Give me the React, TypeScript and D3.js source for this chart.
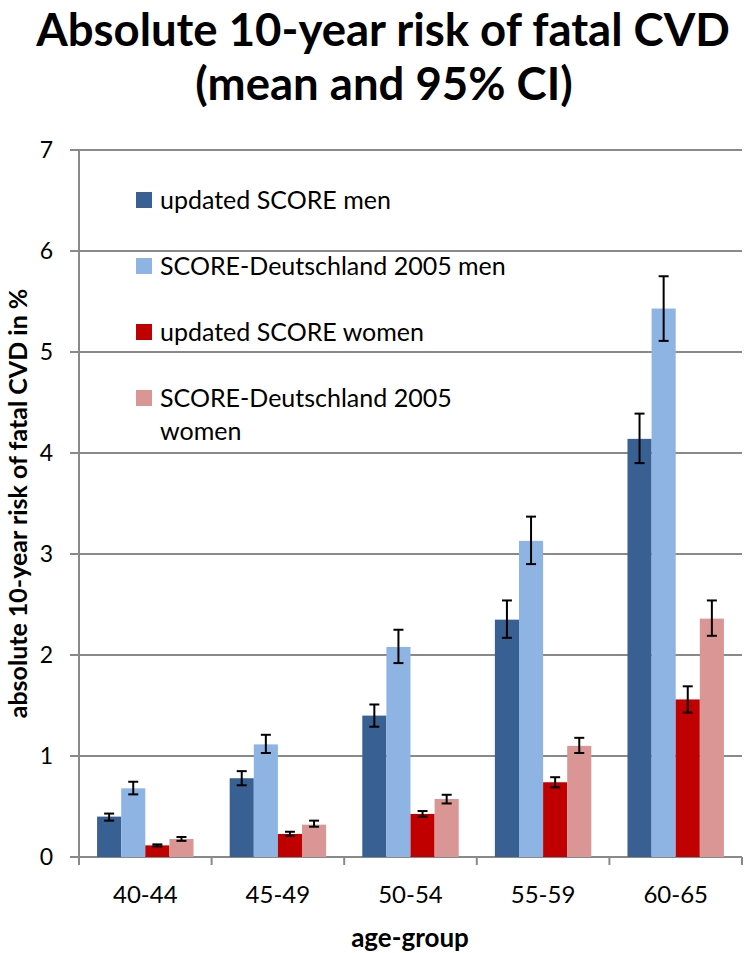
import React from "react";
import * as d3 from "d3";

const ageGroups = ["40-44", "45-49", "50-54", "55-59", "60-65"];
const seriesNames = [
  "updated SCORE men",
  "SCORE-Deutschland 2005 men",
  "updated SCORE women",
  "SCORE-Deutschland 2005 women",
];
const seriesColors = ["#386093", "#8EB4E3", "#C00000", "#D99694"];

const updatedMenMean = [0.4, 0.78, 1.4, 2.35, 4.14];
const updatedMenLow = [0.36, 0.71, 1.29, 2.17, 3.9];
const updatedMenHigh = [0.43, 0.85, 1.51, 2.54, 4.39];

const deMenMean = [0.68, 1.115, 2.08, 3.13, 5.43];
const deMenLow = [0.62, 1.03, 1.92, 2.9, 5.11];
const deMenHigh = [0.745, 1.21, 2.25, 3.37, 5.75];

const updatedWomenMean = [0.115, 0.228, 0.426, 0.74, 1.56];
const updatedWomenLow = [0.105, 0.21, 0.4, 0.69, 1.43];
const updatedWomenHigh = [0.125, 0.25, 0.455, 0.79, 1.69];

const deWomenMean = [0.178, 0.32, 0.574, 1.1, 2.36];
const deWomenLow = [0.16, 0.3, 0.53, 1.03, 2.19];
const deWomenHigh = [0.198, 0.36, 0.616, 1.18, 2.54];

const yTicks = [0, 1, 2, 3, 4, 5, 6, 7];

const means = [updatedMenMean, deMenMean, updatedWomenMean, deWomenMean];
const lows = [updatedMenLow, deMenLow, updatedWomenLow, deWomenLow];
const highs = [updatedMenHigh, deMenHigh, updatedWomenHigh, deWomenHigh];

export default function App() {
  const W = 750;
  const H = 953;
  const left = 79;
  const right = 742;
  const top = 150;
  const bottom = 857;
  const grid = "#898989";
  const font = "Lato, 'Open Sans', sans-serif";

  const y = d3.scaleLinear().domain([0, 7]).range([bottom, top]);
  const x0 = d3.scaleBand<string>().domain(ageGroups).range([left, right]).padding(0);
  const x1 = d3
    .scaleBand<number>()
    .domain(d3.range(seriesNames.length))
    .range([0, x0.bandwidth()])
    .paddingInner(0)
    .paddingOuter(0.75);

  const boundaries = [...ageGroups.map((g) => x0(g) as number), right];

  return (
    <svg width={W} height={H} style={{ position: "absolute", left: 0, top: 0, background: "#fff" }}>
      <rect width={W} height={H} fill="#fff" />
      {/* Title */}
      <text x={383} y={46} textAnchor="middle" fontFamily={font} fontWeight="bold" fontSize={45.5} fill="#000">
        Absolute 10-year risk of fatal CVD
      </text>
      <text x={384} y={100} textAnchor="middle" fontFamily={font} fontWeight="bold" fontSize={45.5} fill="#000">
        (mean and 95% CI)
      </text>

      {/* gridlines */}
      {yTicks.map((t) => (
        <g key={t}>
          <line x1={70} x2={right} y1={y(t)} y2={y(t)} stroke={grid} strokeWidth={2} />
          <text x={53} y={y(t)} dy="0.36em" textAnchor="end" fontFamily={font} fontSize={23} fill="#000">
            {t}
          </text>
        </g>
      ))}
      {/* y axis */}
      <line x1={left} x2={left} y1={top} y2={bottom + 8} stroke={grid} strokeWidth={2} />
      {/* x ticks */}
      {boundaries.map((b, i) => (
        <line key={i} x1={b} x2={b} y1={bottom} y2={bottom + 8} stroke={grid} strokeWidth={2} />
      ))}

      {/* bars */}
      {ageGroups.map((g, gi) => (
        <g key={g} transform={`translate(${x0(g)},0)`}>
          {seriesNames.map((s, si) => {
            const bx = x1(si) as number;
            const bw = x1.bandwidth();
            const v = means[si][gi];
            return (
              <rect key={s} x={bx} y={y(v)} width={bw} height={y(0) - y(v)} fill={seriesColors[si]} />
            );
          })}
          {seriesNames.map((s, si) => {
            const cx = (x1(si) as number) + x1.bandwidth() / 2;
            const lo = y(lows[si][gi]);
            const hi = y(highs[si][gi]);
            return (
              <g key={s + "e"} stroke="#000" strokeWidth={2}>
                <line x1={cx} x2={cx} y1={lo} y2={hi} />
                <line x1={cx - 5} x2={cx + 5} y1={lo} y2={lo} />
                <line x1={cx - 5} x2={cx + 5} y1={hi} y2={hi} />
              </g>
            );
          })}
        </g>
      ))}

      {/* x labels */}
      {ageGroups.map((g) => (
        <text
          key={g}
          x={(x0(g) as number) + x0.bandwidth() / 2}
          y={894}
          dy="0.36em"
          textAnchor="middle"
          fontFamily={font}
          fontSize={24}
          fill="#000"
        >
          {g}
        </text>
      ))}
      <text x={410} y={938} dy="0.36em" textAnchor="middle" fontFamily={font} fontWeight="bold" fontSize={26} fill="#000">
        age-group
      </text>
      <text
        transform={`translate(18,${(top + bottom) / 2}) rotate(-90)`}
        dy="0.36em"
        textAnchor="middle"
        fontFamily={font}
        fontWeight="bold"
        fontSize={25}
        fill="#000"
      >
        absolute 10-year risk of fatal CVD in %
      </text>

      {/* legend */}
      {seriesNames.map((s, i) => {
        const cy = 200 + i * 66;
        const lines = i === 3 ? ["SCORE-Deutschland 2005", "women"] : [s];
        return (
          <g key={s}>
            <rect x={136} y={cy - 8} width={16} height={16} fill={seriesColors[i]} />
            {lines.map((l, li) => (
              <text key={li} x={160} y={cy + li * 33} dy="0.36em" fontFamily={font} fontSize={25} fill="#000">
                {l}
              </text>
            ))}
          </g>
        );
      })}
    </svg>
  );
}
